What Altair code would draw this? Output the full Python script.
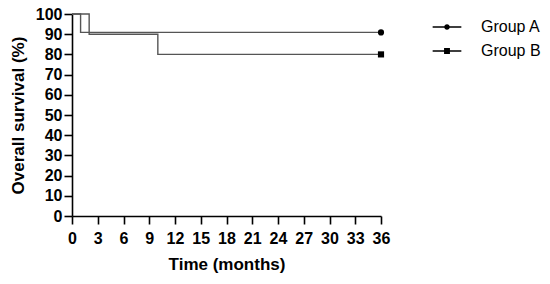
import altair as alt
import pandas as pd

# Kaplan-Meier step data
group_names = ["Group A", "Group B"]
times_a = [0, 1, 36]
surv_a = [100, 90.9, 90.9]
times_b = [0, 2, 10, 36]
surv_b = [100, 90, 80, 80]

x_ticks = list(range(0, 37, 3))
y_ticks = list(range(0, 101, 10))

rows = []
for t, s in zip(times_a, surv_a):
    rows.append({"group": group_names[0], "time": t, "surv": s})
for t, s in zip(times_b, surv_b):
    rows.append({"group": group_names[1], "time": t, "surv": s})
df = pd.DataFrame(rows)
ends = pd.DataFrame([
    {"group": group_names[0], "time": times_a[-1], "surv": surv_a[-1]},
    {"group": group_names[1], "time": times_b[-1], "surv": surv_b[-1]},
])

FONT = "Liberation Sans"

x_enc = alt.X("time:Q",
              scale=alt.Scale(domain=[0, 36], nice=False),
              axis=alt.Axis(values=x_ticks, title="Time (months)", labelPadding=6,
                            titlePadding=10))
y_enc = alt.Y("surv:Q",
              scale=alt.Scale(domain=[0, 100], nice=False),
              axis=alt.Axis(values=y_ticks, title="Overall survival (%)", titlePadding=8))

lines = alt.Chart(df).mark_line(interpolate="step-after", color="#555555",
                                strokeWidth=1.4).encode(
    x=x_enc, y=y_enc, detail="group:N")

markers = alt.Chart(ends).mark_point(filled=True, color="black", size=38, opacity=1).encode(
    x=x_enc, y=y_enc,
    shape=alt.Shape("group:N", scale=alt.Scale(domain=group_names,
                                               range=["circle", "square"]),
                    legend=None))

legend_circle = ("M-2.05,-0.09H2.05V0.09H-2.05Z "
                 "M-0.4,0A0.4,0.4 0 1,1 0.4,0A0.4,0.4 0 1,1 -0.4,0Z")
legend_square = ("M-2.05,-0.09H2.05V0.09H-2.05Z "
                 "M-0.42,-0.42H0.42V0.42H-0.42Z")

legend_layer = alt.Chart(ends).mark_point(filled=True, color="black", opacity=0).encode(
    x=x_enc, y=y_enc,
    shape=alt.Shape("group:N", scale=alt.Scale(domain=group_names,
                                               range=[legend_circle, legend_square]),
                    legend=alt.Legend(title=None, orient="none", legendX=367, legendY=5,
                                      symbolSize=196, labelOffset=26, padding=0,
                                      rowPadding=8, labelFont=FONT, labelFontSize=16,
                                      labelColor="black", symbolOpacity=1)))

chart = alt.layer(lines, markers, legend_layer).resolve_scale(shape="independent").properties(
    width=309, height=202,
    autosize=alt.AutoSizeParams(type="none"),
    padding={"left": 64, "top": 6, "right": 161, "bottom": 60},
).configure_view(stroke=None).configure_axis(
    grid=False,
    domainColor="black", domainWidth=1.6,
    tickColor="black", tickWidth=1.6, tickSize=8,
    labelFont=FONT, labelFontSize=16, labelFontWeight="bold", labelColor="black",
    labelPadding=2, labelOverlap=False, labelFlush=False,
    titleFont=FONT, titleFontSize=17, titleFontWeight="bold", titleColor="black",
)

chart.save("out.html", embed_options={"renderer": "svg", "actions": False})
